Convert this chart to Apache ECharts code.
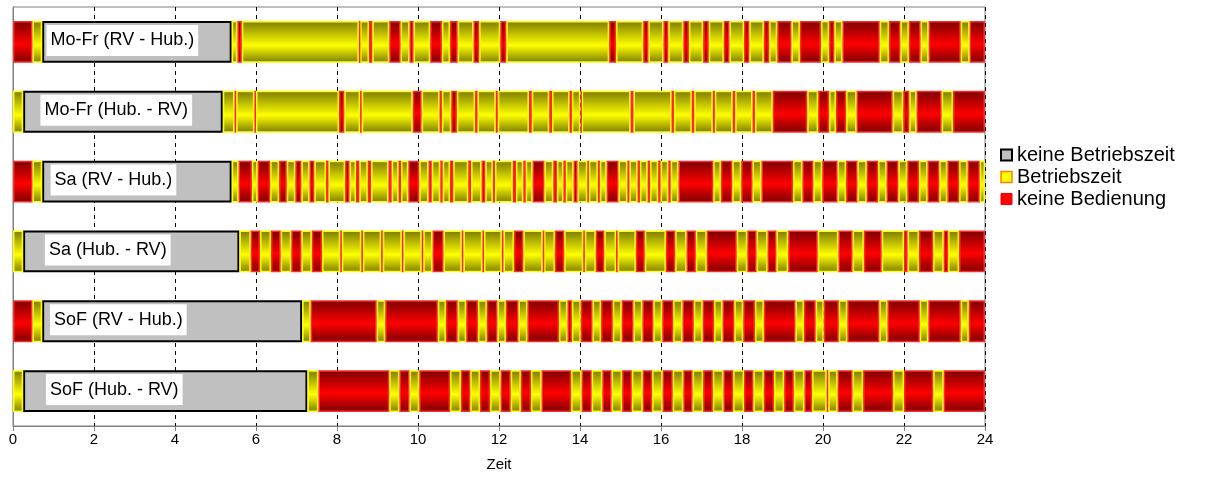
<!DOCTYPE html>
<html><head><meta charset="utf-8">
<script src="https://cdn.jsdelivr.net/npm/echarts@6/dist/echarts.min.js"></script>
<style>html,body{margin:0;padding:0;background:#fff}#c{width:1224px;height:500px}</style>
</head><body><div id="c"></div>
<script>
// Row labels (top to bottom)
const categories = ['Mo-Fr (RV - Hub.)', 'Mo-Fr (Hub. - RV)', 'Sa (RV - Hub.)', 'Sa (Hub. - RV)', 'SoF (RV - Hub.)', 'SoF (Hub. - RV)'];
const legendNames = ['keine Betriebszeit', 'Betriebszeit', 'keine Bedienung'];
const axisName = 'Zeit';
const xMin = 0, xMax = 24, xStep = 2;

// Each row: consecutive segments as [end hour, kind]; G = keine Betriebszeit, Y = Betriebszeit, R = keine Bedienung
const rowMoFrRvHub = [[0.48,'R'],[0.72,'Y'],[5.40,'G'],[5.54,'Y'],[5.65,'R'],[8.54,'Y'],[8.57,'R'],[8.79,'Y'],[8.87,'R'],[9.29,'Y'],[9.57,'R'],[9.79,'Y'],[9.89,'R'],[10.30,'Y'],[10.59,'R'],[10.79,'Y'],[10.98,'R'],[11.37,'Y'],[11.51,'R'],[12.03,'Y'],[12.18,'R'],[14.72,'Y'],[14.89,'R'],[15.56,'Y'],[15.69,'R'],[16.06,'Y'],[16.18,'R'],[16.55,'Y'],[16.69,'R'],[17.04,'Y'],[17.18,'R'],[17.55,'Y'],[17.69,'R'],[18.05,'Y'],[18.18,'R'],[18.54,'Y'],[18.67,'R'],[18.87,'Y'],[19.22,'R'],[19.43,'Y'],[19.95,'R'],[20.15,'Y'],[20.28,'R'],[20.48,'Y'],[21.40,'R'],[21.63,'Y'],[21.91,'R'],[22.12,'Y'],[22.41,'R'],[22.61,'Y'],[23.40,'R'],[23.62,'Y'],[24,'R']];
const rowMoFrHubRv = [[0.25,'Y'],[5.18,'G'],[5.47,'Y'],[5.51,'R'],[5.96,'Y'],[6.00,'R'],[8.05,'Y'],[8.18,'R'],[8.57,'Y'],[8.61,'R'],[9.87,'Y'],[10.09,'R'],[10.53,'Y'],[10.59,'R'],[10.82,'Y'],[10.96,'R'],[11.41,'Y'],[11.47,'R'],[11.92,'Y'],[11.97,'R'],[12.74,'Y'],[12.81,'R'],[13.24,'Y'],[13.31,'R'],[13.74,'Y'],[13.80,'R'],[14.01,'Y'],[14.04,'R'],[15.25,'Y'],[15.32,'R'],[16.26,'Y'],[16.32,'R'],[16.76,'Y'],[16.82,'R'],[17.28,'Y'],[17.33,'R'],[17.77,'Y'],[17.83,'R'],[18.26,'Y'],[18.32,'R'],[18.76,'Y'],[19.61,'R'],[19.88,'Y'],[20.15,'R'],[20.32,'Y'],[20.57,'R'],[20.83,'Y'],[21.72,'R'],[21.98,'Y'],[22.13,'R'],[22.31,'Y'],[22.93,'R'],[23.21,'Y'],[24,'R']];
const rowSaRvHub = [[0.48,'R'],[0.72,'Y'],[5.40,'G'],[5.57,'Y'],[5.90,'R'],[6.04,'Y'],[6.35,'R'],[6.57,'Y'],[6.76,'R'],[6.97,'Y'],[7.12,'R'],[7.32,'Y'],[7.44,'R'],[7.73,'Y'],[7.79,'R'],[8.20,'Y'],[8.31,'R'],[8.47,'Y'],[8.55,'R'],[8.76,'Y'],[8.84,'R'],[9.27,'Y'],[9.35,'R'],[9.52,'Y'],[9.58,'R'],[9.76,'Y'],[10.03,'R'],[10.26,'Y'],[10.34,'R'],[10.55,'Y'],[10.61,'R'],[10.79,'Y'],[10.87,'R'],[11.24,'Y'],[11.31,'R'],[11.57,'Y'],[11.66,'R'],[11.85,'Y'],[11.90,'R'],[12.34,'Y'],[12.42,'R'],[12.60,'Y'],[12.66,'R'],[12.83,'Y'],[13.12,'R'],[13.34,'Y'],[13.43,'R'],[13.59,'Y'],[13.65,'R'],[13.84,'Y'],[13.94,'R'],[14.18,'Y'],[14.22,'R'],[14.44,'Y'],[14.49,'R'],[14.66,'Y'],[14.95,'R'],[15.17,'Y'],[15.22,'R'],[15.42,'Y'],[15.48,'R'],[15.67,'Y'],[15.73,'R'],[15.93,'Y'],[15.99,'R'],[16.18,'Y'],[16.24,'R'],[16.43,'Y'],[17.29,'R'],[17.48,'Y'],[17.76,'R'],[17.98,'Y'],[18.26,'R'],[18.48,'Y'],[19.26,'R'],[19.49,'Y'],[19.76,'R'],[19.98,'Y'],[20.36,'R'],[20.57,'Y'],[20.85,'R'],[21.08,'Y'],[21.36,'R'],[21.57,'Y'],[21.86,'R'],[22.08,'Y'],[22.37,'R'],[22.58,'Y'],[22.87,'R'],[23.07,'Y'],[23.36,'R'],[23.57,'Y'],[23.87,'R'],[24,'Y']];
const rowSaHubRv = [[0.25,'Y'],[5.59,'G'],[5.87,'Y'],[6.10,'R'],[6.37,'Y'],[6.61,'R'],[6.87,'Y'],[7.12,'R'],[7.38,'Y'],[7.63,'R'],[8.08,'Y'],[8.12,'R'],[8.60,'Y'],[8.64,'R'],[9.09,'Y'],[9.13,'R'],[9.60,'Y'],[9.64,'R'],[10.09,'Y'],[10.13,'R'],[10.36,'Y'],[10.63,'R'],[11.08,'Y'],[11.12,'R'],[11.59,'Y'],[11.63,'R'],[12.07,'Y'],[12.11,'R'],[12.37,'Y'],[12.60,'R'],[13.08,'Y'],[13.11,'R'],[13.38,'Y'],[13.61,'R'],[14.08,'Y'],[14.12,'R'],[14.39,'Y'],[14.60,'R'],[14.89,'Y'],[14.93,'R'],[15.38,'Y'],[15.60,'R'],[16.12,'Y'],[16.35,'R'],[16.63,'Y'],[16.86,'R'],[17.13,'Y'],[17.87,'R'],[18.13,'Y'],[18.36,'R'],[18.63,'Y'],[18.85,'R'],[19.14,'Y'],[19.87,'R'],[20.38,'Y'],[20.73,'R'],[21.01,'Y'],[21.45,'R'],[22.00,'Y'],[22.09,'R'],[22.37,'Y'],[22.72,'R'],[22.98,'Y'],[23.09,'R'],[23.36,'Y'],[24,'R']];
const rowSoFRvHub = [[0.48,'R'],[0.72,'Y'],[7.14,'G'],[7.35,'Y'],[8.98,'R'],[9.19,'Y'],[10.49,'R'],[10.69,'Y'],[10.98,'R'],[11.19,'Y'],[11.48,'R'],[11.70,'Y'],[11.96,'R'],[12.17,'Y'],[12.48,'R'],[12.70,'Y'],[13.48,'R'],[13.69,'Y'],[13.80,'R'],[14.02,'Y'],[14.31,'R'],[14.52,'Y'],[14.81,'R'],[15.03,'Y'],[15.32,'R'],[15.54,'Y'],[15.81,'R'],[16.03,'Y'],[16.30,'R'],[16.53,'Y'],[16.81,'R'],[17.03,'Y'],[17.31,'R'],[17.52,'Y'],[17.81,'R'],[18.03,'Y'],[18.32,'R'],[18.54,'Y'],[19.32,'R'],[19.53,'Y'],[19.82,'R'],[20.02,'Y'],[20.39,'R'],[20.60,'Y'],[21.39,'R'],[21.59,'Y'],[22.39,'R'],[22.60,'Y'],[23.40,'R'],[23.60,'Y'],[24,'R']];
const rowSoFHubRv = [[0.25,'Y'],[7.27,'G'],[7.54,'Y'],[9.29,'R'],[9.54,'Y'],[9.79,'R'],[10.03,'Y'],[10.79,'R'],[11.06,'Y'],[11.29,'R'],[11.53,'Y'],[11.78,'R'],[12.04,'Y'],[12.29,'R'],[12.54,'Y'],[12.79,'R'],[13.05,'Y'],[13.78,'R'],[14.04,'Y'],[14.29,'R'],[14.55,'Y'],[14.78,'R'],[15.04,'Y'],[15.28,'R'],[15.55,'Y'],[15.78,'R'],[16.04,'Y'],[16.29,'R'],[16.55,'Y'],[16.78,'R'],[17.04,'Y'],[17.28,'R'],[17.54,'Y'],[17.78,'R'],[18.05,'Y'],[18.28,'R'],[18.54,'Y'],[18.79,'R'],[19.04,'Y'],[19.28,'R'],[19.54,'Y'],[19.73,'R'],[20.09,'Y'],[20.13,'R'],[20.36,'Y'],[20.73,'R'],[20.99,'Y'],[21.73,'R'],[22.00,'Y'],[22.72,'R'],[22.98,'Y'],[24,'R']];

const rowsData = [rowMoFrRvHub, rowMoFrHubRv, rowSaRvHub, rowSaHubRv, rowSoFRvHub, rowSoFHubRv];
const kinds = ['G', 'Y', 'R'];

// layout: hour at which each row's label box is centred
const labelHours = [2.70, 2.55, 2.48, 2.34, 2.60, 2.50];
const FONT = '"Liberation Sans", Arial, sans-serif';

function buildData(kind) {
  const out = [];
  rowsData.forEach((segs, r) => {
    let start = 0;
    segs.forEach(([end, k]) => {
      if (k === kind) out.push([start, end, r]);
      start = end;
    });
  });
  return out;
}

const styles = {
  G: { fill: '#c0c0c0', stroke: '#000000', lw: 2 },
  Y: { fill: new echarts.graphic.LinearGradient(0, 0, 0, 1, [
        { offset: 0, color: '#7a7a00' }, { offset: 0.58, color: '#ffff00' }, { offset: 1, color: '#7a7a00' }]),
       stroke: '#ffff00', lw: 1.5 },
  R: { fill: new echarts.graphic.LinearGradient(0, 0, 0, 1, [
        { offset: 0, color: '#7a0000' }, { offset: 0.55, color: '#ff0000' }, { offset: 1, color: '#7a0000' }]),
       stroke: '#ff2a2a', lw: 1.5 }
};

function makeRender(kind) {
  const st = styles[kind];
  return function (params, api) {
    const s = api.value(0), e = api.value(1), r = api.value(2);
    const a = api.coord([s, r]), b = api.coord([e, r]);
    const h = api.size([0, 1])[1] * 0.6;
    const y = a[1] - h / 2;
    const w = b[0] - a[0];
    const lw = st.lw;
    const rect = {
      type: 'rect',
      shape: { x: a[0] + lw / 2, y: y + lw / 2, width: Math.max(w - lw, 0.01), height: h - lw },
      style: { fill: st.fill, stroke: st.stroke, lineWidth: lw }
    };
    if (kind !== 'G') return rect;
    const lx = api.coord([labelHours[r], r])[0];
    return {
      type: 'group',
      children: [rect, {
        type: 'text', x: lx, y: a[1] - 1.5,
        style: {
          text: categories[r], fill: '#000', font: '18px ' + FONT,
          align: 'center', verticalAlign: 'middle',
          backgroundColor: '#ffffff', padding: [7, 4, 6, 4]
        }
      }]
    };
  };
}

const chart = echarts.init(document.getElementById('c'), null, { renderer: 'canvas' });
chart.setOption({
  animation: false,
  backgroundColor: '#ffffff',
  grid: { left: 13, right: 239, top: 7, bottom: 74, show: true, borderColor: '#808080', borderWidth: 1, containLabel: false },
  legend: {
    orient: 'vertical', left: 995, top: 140, itemWidth: 11, itemHeight: 11, itemGap: 2,
    textStyle: { fontFamily: FONT, fontSize: 20, color: '#000' },
    data: [
      { name: legendNames[0], icon: 'rect', itemStyle: { color: '#c0c0c0', borderColor: '#000', borderWidth: 2 } },
      { name: legendNames[1], icon: 'rect', itemStyle: { color: '#ffff00', borderColor: '#ff8000', borderWidth: 1.5 } },
      { name: legendNames[2], icon: 'rect', itemStyle: { color: '#ff0000', borderColor: '#ff0000', borderWidth: 1 } }
    ],
    selectedMode: false
  },
  xAxis: {
    type: 'value', min: xMin, max: xMax, interval: xStep,
    name: axisName, nameLocation: 'middle', nameGap: 31,
    nameTextStyle: { fontFamily: FONT, fontSize: 15, color: '#000' },
    axisLine: { show: true, lineStyle: { color: '#808080', width: 1 } },
    axisTick: { show: true, length: 5, lineStyle: { color: '#808080' } },
    axisLabel: { fontFamily: FONT, fontSize: 15, color: '#000', margin: 6 },
    splitLine: { show: true, lineStyle: { color: '#000', type: [4, 4], width: 1 } }
  },
  yAxis: {
    type: 'category', data: categories, inverse: true,
    axisLine: { show: true, lineStyle: { color: '#808080' } },
    axisTick: { show: false }, axisLabel: { show: false }, splitLine: { show: false }
  },
  series: kinds.map((k, i) => ({
    type: 'custom', name: legendNames[i],
    renderItem: makeRender(k),
    encode: { x: [0, 1], y: 2 },
    itemStyle: { color: i === 0 ? '#c0c0c0' : (i === 1 ? '#ffff00' : '#ff0000') },
    data: buildData(k),
    z: 2
  }))
});
</script>
</body></html>
